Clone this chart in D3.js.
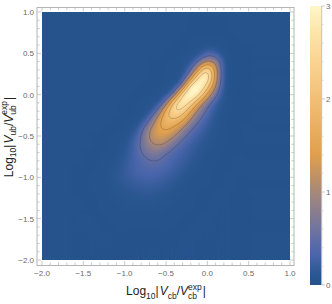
<!DOCTYPE html>
<html><head><meta charset="utf-8">
<style>html,body{margin:0;padding:0;background:#fff}svg{display:block}text{font-family:"Liberation Sans",Arial,sans-serif}</style>
<script src="https://cdn.jsdelivr.net/npm/d3@7"></script>
</head><body><svg id="c" width="332" height="304"></svg>
<script>
const gridX=[-1.5,-1.4,-1.3,-1.2,-1.1,-1.0,-0.9,-0.8,-0.7,-0.6,-0.5,-0.4,-0.3,-0.2,-0.1,0,0.1,0.2,0.3];
const gridY=[0.7,0.6,0.5,0.4,0.3,0.2,0.1,0,-0.1,-0.2,-0.3,-0.4,-0.5,-0.6,-0.7,-0.8,-0.9,-1.0,-1.1,-1.2,-1.3,-1.4,-1.5,-1.6];
const density=[
[.02,.02,.02,.02,.02,.02,.02,.02,.02,.02,.02,.02,.02,.02,.02,.02,.02,.02,.02],
[.02,.02,.02,.02,.02,.02,.02,.02,.02,.02,.02,.02,.02,.02,.03,.06,.05,.02,.02],
[.02,.02,.02,.02,.02,.02,.02,.02,.02,.02,.02,.02,.02,.03,.10,.32,.24,.03,.02],
[.02,.02,.02,.02,.02,.02,.02,.02,.02,.02,.02,.02,.03,.12,.50,1.05,.88,.12,.02],
[.02,.02,.02,.02,.02,.02,.02,.02,.02,.02,.02,.03,.10,.38,1.50,2.70,1.20,.14,.02],
[.02,.02,.02,.02,.02,.02,.02,.02,.02,.02,.02,.04,.14,1.10,2.80,3.00,1.20,.14,.02],
[.02,.02,.02,.02,.02,.02,.02,.02,.02,.02,.03,.14,.65,2.90,3.20,2.20,.95,.12,.02],
[.02,.02,.02,.02,.02,.02,.02,.02,.02,.03,.12,.55,2.60,3.25,2.60,1.35,.58,.09,.02],
[.02,.02,.02,.02,.02,.02,.02,.02,.03,.12,.60,2.30,2.95,2.35,1.30,.65,.24,.04,.02],
[.02,.02,.02,.02,.02,.02,.02,.03,.12,.50,1.75,2.60,2.35,1.45,.85,.40,.16,.03,.02],
[.02,.02,.02,.02,.02,.02,.02,.09,.40,1.25,1.90,1.95,1.60,.98,.52,.26,.10,.02,.02],
[.02,.02,.02,.02,.02,.02,.07,.30,.92,1.40,1.62,1.42,1.05,.55,.33,.18,.07,.02,.02],
[.02,.02,.02,.02,.02,.04,.18,.48,1.08,1.33,1.28,1.05,.60,.35,.22,.12,.05,.02,.02],
[.02,.02,.02,.02,.03,.08,.25,.56,.90,1.06,.97,.58,.38,.25,.15,.08,.03,.02,.02],
[.02,.02,.02,.02,.04,.12,.27,.48,.70,.72,.50,.36,.27,.18,.10,.05,.02,.02,.02],
[.02,.02,.02,.03,.07,.16,.28,.38,.48,.50,.40,.30,.22,.14,.07,.03,.02,.02,.02],
[.02,.02,.02,.04,.10,.18,.28,.34,.37,.36,.31,.24,.16,.09,.04,.02,.02,.02,.02],
[.02,.02,.03,.06,.12,.18,.24,.28,.30,.28,.22,.16,.10,.05,.03,.02,.02,.02,.02],
[.02,.02,.03,.05,.09,.13,.17,.20,.21,.19,.15,.10,.06,.03,.02,.02,.02,.02,.02],
[.02,.02,.02,.04,.06,.09,.11,.13,.13,.12,.09,.06,.04,.02,.02,.02,.02,.02,.02],
[.02,.02,.02,.03,.04,.06,.07,.08,.08,.07,.05,.04,.03,.02,.02,.02,.02,.02,.02],
[.02,.02,.02,.02,.03,.04,.05,.05,.05,.05,.04,.03,.02,.02,.02,.02,.02,.02,.02],
[.02,.02,.02,.02,.02,.03,.03,.03,.03,.03,.03,.02,.02,.02,.02,.02,.02,.02,.02],
[.02,.02,.02,.02,.02,.02,.02,.02,.02,.02,.02,.02,.02,.02,.02,.02,.02,.02,.02]
];
const axisTicks=[-2,-1.5,-1,-0.5,0,0.5,1];
const contourLevels=[0.5,1,1.5,2,2.5];
const barTicks=[0,1,2,3];
const colorStops=[0,0.12,0.32,0.6,0.85,1.1,1.4,1.8,2.3,2.7,3];
const colorValues=["#26528b","#2b5792","#4965ab","#70749f","#92808a","#b58d6c","#e09f4e","#ebb568","#f8cf8b","#fde3a8","#fff6c9"];

const svg=d3.select("#c");
const x=d3.scaleLinear([-2,1],[42,290]);
const y=d3.scaleLinear([-2,1],[260,12]);
const color=d3.scaleLinear(colorStops,colorValues).interpolate(d3.interpolateRgb).clamp(true);
const gray="#b4b4b4", txt="#6a6a6a";

function cr(a,b,c,d,t){return 0.5*((2*b)+(c-a)*t+(2*a-5*b+4*c-d)*t*t+(3*b-a-3*c+d)*t*t*t);}
const gx=d3.scaleLinear(d3.extent(gridX),[0,gridX.length-1]);
const gy=d3.scaleLinear([gridY[0],gridY[gridY.length-1]],[0,gridY.length-1]);
const cell=(r,c)=>density[Math.max(0,Math.min(gridY.length-1,r))][Math.max(0,Math.min(gridX.length-1,c))];
function sample(dx,dy){
  const u=gx(dx),v=gy(dy),c=Math.floor(u),r=Math.floor(v),s=u-c,t=v-r;
  const row=k=>cr(cell(r+k,c-1),cell(r+k,c),cell(r+k,c+1),cell(r+k,c+2),s);
  return Math.max(0.005,cr(row(-1),row(0),row(1),row(2),t));
}
const n=249,m=249,vals=new Float64Array(n*m);
const sx=d3.scaleLinear([0,n-1],[-2,1]),sy=d3.scaleLinear([0,m-1],[1,-2]);
for(let j=0;j<m;j++)for(let i=0;i<n;i++)vals[j*n+i]=sample(sx(i),sy(j));
d3.blur2({data:vals,width:n},3.2);
const path=d3.geoPath(d3.geoTransform({point(a,b){this.stream.point(x(sx(a-.5)),y(sy(b-.5)));}}));

const defs=svg.append("defs");
defs.append("clipPath").attr("id","pc").append("rect").attr("x",42).attr("y",12).attr("width",248).attr("height",248);
const grad=defs.append("linearGradient").attr("id","bar").attr("x1",0).attr("x2",0).attr("y1",1).attr("y2",0);
colorStops.forEach((s,i)=>grad.append("stop").attr("offset",s/3).attr("stop-color",colorValues[i]));

const plot=svg.append("g").attr("clip-path","url(#pc)");
plot.append("rect").attr("x",42).attr("y",12).attr("width",248).attr("height",248).attr("fill",color(0.01));
const fills=d3.range(0.02,3.2,0.02);
plot.selectAll("path.f").data(d3.contours().size([n,m]).thresholds(fills)(vals)).join("path")
  .attr("class","f").attr("d",path).attr("fill",d=>color(d.value+0.01));
plot.selectAll("path.l").data(d3.contours().size([n,m]).thresholds(contourLevels)(vals)).join("path")
  .attr("class","l").attr("d",path).attr("fill","none").attr("stroke","#000").attr("stroke-opacity",.25).attr("stroke-width",.7);

svg.append("rect").attr("x",37).attr("y",7.5).attr("width",257).attr("height",258).attr("fill","none").attr("stroke",gray).attr("stroke-width",1);
const minor=d3.range(-20,11).map(d=>d/10);
const tg=svg.append("g").attr("stroke",gray).attr("stroke-width",.7);
minor.forEach(v=>{
  const maj=Math.abs(v*2-Math.round(v*2))<1e-6,l=maj?4:2.5;
  const X=x(v),Y=y(v);
  tg.append("line").attr("x1",X).attr("x2",X).attr("y1",265).attr("y2",265-l);
  tg.append("line").attr("x1",X).attr("x2",X).attr("y1",7.5).attr("y2",7.5+l);
  tg.append("line").attr("y1",Y).attr("y2",Y).attr("x1",37).attr("x2",37+l);
  tg.append("line").attr("y1",Y).attr("y2",Y).attr("x1",294).attr("x2",294-l);
});
const fmt=v=>(v<0?"\u2212":"")+Math.abs(v).toFixed(1);
svg.selectAll("text.xt").data(axisTicks).join("text").attr("class","xt").attr("x",d=>x(d)).attr("y",275.5).attr("text-anchor","middle").attr("font-size",8).attr("fill",txt).text(fmt);
svg.selectAll("text.yt").data(axisTicks).join("text").attr("class","yt").attr("x",34).attr("y",d=>y(d)+3).attr("text-anchor","end").attr("font-size",8).attr("fill",txt).text(fmt);

const cb=d3.scaleLinear([0,3],[285,6]);
svg.append("rect").attr("x",310).attr("y",6).attr("width",11.5).attr("height",279).attr("fill","url(#bar)");
svg.append("line").attr("x1",321.7).attr("x2",321.7).attr("y1",6).attr("y2",285).attr("stroke",gray).attr("stroke-width",.8);
d3.range(0,3.01,0.2).forEach(v=>{
  const maj=Math.abs(v-Math.round(v))<1e-6;
  svg.append("line").attr("x1",321.7).attr("x2",maj?325:323.5).attr("y1",cb(v)).attr("y2",cb(v)).attr("stroke",maj?gray:"#d0d0d0").attr("stroke-width",.7);
});
svg.selectAll("text.bt").data(barTicks).join("text").attr("class","bt").attr("x",326).attr("y",d=>cb(d)+3).attr("font-size",8).attr("fill",txt).text(d=>d);

function title(g,sub){
  const fs=12, ss=8.5;
  let pos=0;
  const put=(t,o={})=>{
    const e=g.append("text").attr("x",pos).attr("y",o.dy||0).attr("font-size",o.fs||fs).attr("fill","#222").attr("font-style",o.it?"italic":"normal").text(t);
    const w=e.node().getComputedTextLength(); if(!o.hold)pos+=w+(o.gap||0); return w;
  };
  put("Log");put("10",{fs:ss,dy:3.5});put("|",{gap:1});put("V",{it:1});put(sub,{fs:ss,dy:3.5});put("/");put("V",{it:1});
  const a=put("exp",{fs:ss,dy:-5.5,hold:1}),b=put(sub,{fs:ss,dy:3.5,hold:1});
  pos+=Math.max(a,b)+1;put("|");
  return pos;
}
const gx1=svg.append("g");const wx=title(gx1,"cb");gx1.attr("transform",`translate(${166-wx/2},295)`);
const gy1=svg.append("g");const wy=title(gy1,"ub");gy1.attr("transform",`translate(12.5,${137+wy/2}) rotate(-90)`);
</script></body></html>
